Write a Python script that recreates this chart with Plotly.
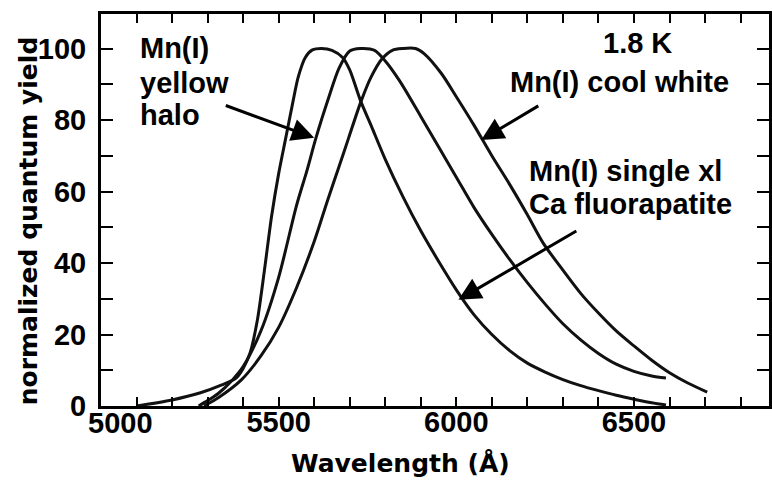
import plotly.graph_objects as go

# ---- data ----
wl_ca = [5100, 5200, 5280, 5340, 5380, 5400, 5420, 5440, 5460, 5480, 5500, 5520,
         5540, 5555, 5575, 5595, 5620, 5650, 5680, 5700, 5730, 5760, 5800, 5850,
         5900, 5950, 6000, 6050, 6100, 6150, 6200, 6250, 6300, 6350, 6400, 6450,
         6500, 6550, 6590]
qy_ca = [0, 1.7, 3.7, 5.9, 7.8, 10.5, 15, 24, 38, 53, 65, 75,
         85, 92, 97.5, 99.6, 100, 99.5, 97.5, 94, 85.5, 78.5, 69, 58.5,
         49, 40.5, 32.5, 25.5, 20, 15.5, 12, 9.5, 7.4, 5.7, 4.3, 3.0,
         1.9, 0.9, 0.3]

wl_yh = [5275, 5300, 5330, 5370, 5400, 5450, 5500, 5550, 5580, 5605, 5640, 5670,
         5700, 5730, 5770, 5800, 5840, 5900, 5950, 6000, 6050, 6100, 6150, 6200,
         6250, 6300, 6350, 6400, 6450, 6500, 6550, 6590]
qy_yh = [0, 1.5, 3.5, 7.3, 11, 21, 36, 56, 66, 75, 86, 94.5,
         99.3, 100, 99.5, 96.5, 91, 81, 72.5, 64, 55.5, 48, 41, 34.5,
         28.5, 23, 18.5, 14.7, 11.7, 9.7, 8.4, 7.8]

wl_cw = [5290, 5330, 5395, 5450, 5500, 5550, 5600, 5636, 5670, 5697, 5731, 5760,
         5790, 5820, 5850, 5885, 5910, 5958, 6000, 6050, 6100, 6150, 6200, 6245,
         6300, 6350, 6400, 6450, 6500, 6550, 6600, 6650, 6706]
qy_cw = [0, 2.3, 7.3, 14, 22, 33, 46, 57, 67, 75, 85, 92,
         97, 99.5, 100, 100, 98.5, 93, 86.5, 78.5, 70, 62, 53.5, 45.5,
         38, 31.5, 26, 21, 16.8, 12.8, 9.3, 6.5, 3.9]

# ticks every 100 A / every 10 %, labels only at these values
x_labels = {5000: "5000", 5500: "5500", 6000: "6000", 6500: "6500"}
y_labels = {0: "0", 20: "20", 40: "40", 60: "60", 80: "80", 100: "100"}
x_tickvals = list(range(5000, 6900, 100))
y_tickvals = list(range(0, 110, 10))
x_first_label_offset = 56   # the 5000 label sits right of its tick in the reference

x_title = "Wavelength (Å)"
y_title = "normalized quantum yield"

FONT = "Liberation Sans, Arial, sans-serif"
TITLE_FONT = "DejaVu Sans, sans-serif"

fig = go.Figure()
for wl, qy in [(wl_ca, qy_ca), (wl_yh, qy_yh), (wl_cw, qy_cw)]:
    fig.add_trace(go.Scatter(x=wl, y=qy, mode="lines",
                             line=dict(color="#111111", width=3, shape="spline", smoothing=0.8),
                             hoverinfo="skip"))

tickfont = dict(family=FONT, size=29, color="black", weight="bold")

x_first = x_tickvals[0]
fig.update_xaxes(range=[5000, 6880], tickmode="array", tickvals=x_tickvals,
                 ticktext=["" if v == x_first else x_labels.get(v, "") for v in x_tickvals],
                 ticks="inside", ticklen=9, tickwidth=2, tickcolor="black",
                 mirror="allticks", showline=True, linecolor="black", linewidth=3,
                 showgrid=False, zeroline=False, tickfont=tickfont,
                 ticklabelstandoff=-12)
fig.update_yaxes(range=[0, 109.65], tickmode="array", tickvals=y_tickvals,
                 ticktext=[y_labels.get(v, "") for v in y_tickvals],
                 ticks="inside", ticklen=12, tickwidth=2, tickcolor="black",
                 mirror="allticks", showline=True, linecolor="black", linewidth=3,
                 showgrid=False, zeroline=False, tickfont=tickfont,
                 ticklabelstandoff=6)

tf = dict(family=FONT, size=29, color="black", weight="bold")
ann = []
# first x tick label, shifted right as in the reference
ann.append(dict(x=x_first + x_first_label_offset, xref="x", yref="paper",
                y=(406 - 423) / 392, text=x_labels[x_first], showarrow=False,
                xanchor="center", yanchor="middle", font=tf))
for txt, yv in [("Mn(I)", 100.1), ("yellow", 90.3), ("halo", 81.4)]:
    ann.append(dict(x=5104, y=yv, text=txt, showarrow=False, xanchor="left",
                    yanchor="middle", font=tf))
for txt, xv, yv in [("1.8 K", 6510, 101.5), ("Mn(I) cool white", 6459, 90.6),
                    ("Mn(I) single xl", 6476, 65.7), ("Ca fluorapatite", 6490, 56.5)]:
    ann.append(dict(x=xv, y=yv, text=txt, showarrow=False, xanchor="center",
                    yanchor="middle", font=tf))
for hx, hy, tx, ty in [(5600, 75.0, 5347, 84.2), (6070, 74.4, 6235, 84.2),
                       (6006, 29.7, 6342, 49.2)]:
    ann.append(dict(x=hx, y=hy, ax=tx, ay=ty, axref="x", ayref="y", text="",
                    showarrow=True, arrowhead=2, arrowsize=1.5, arrowwidth=3,
                    arrowcolor="black"))
ann.append(dict(xref="paper", yref="paper", x=(402 - 101) / 671, y=(406 - 463) / 392,
                text=x_title, showarrow=False, xanchor="center", yanchor="middle",
                font=dict(family=TITLE_FONT, size=25, color="black", weight="bold")))
ann.append(dict(xref="paper", yref="paper", x=(28 - 101) / 671, y=(406 - 221) / 392,
                text=y_title, showarrow=False, xanchor="center", yanchor="middle",
                textangle=-90,
                font=dict(family=TITLE_FONT, size=25, color="black", weight="bold")))

fig.update_layout(width=772, height=481, margin=dict(l=101, r=0, t=14, b=75),
                  plot_bgcolor="white", paper_bgcolor="white", showlegend=False,
                  annotations=ann)

fig.write_html("out.html")
